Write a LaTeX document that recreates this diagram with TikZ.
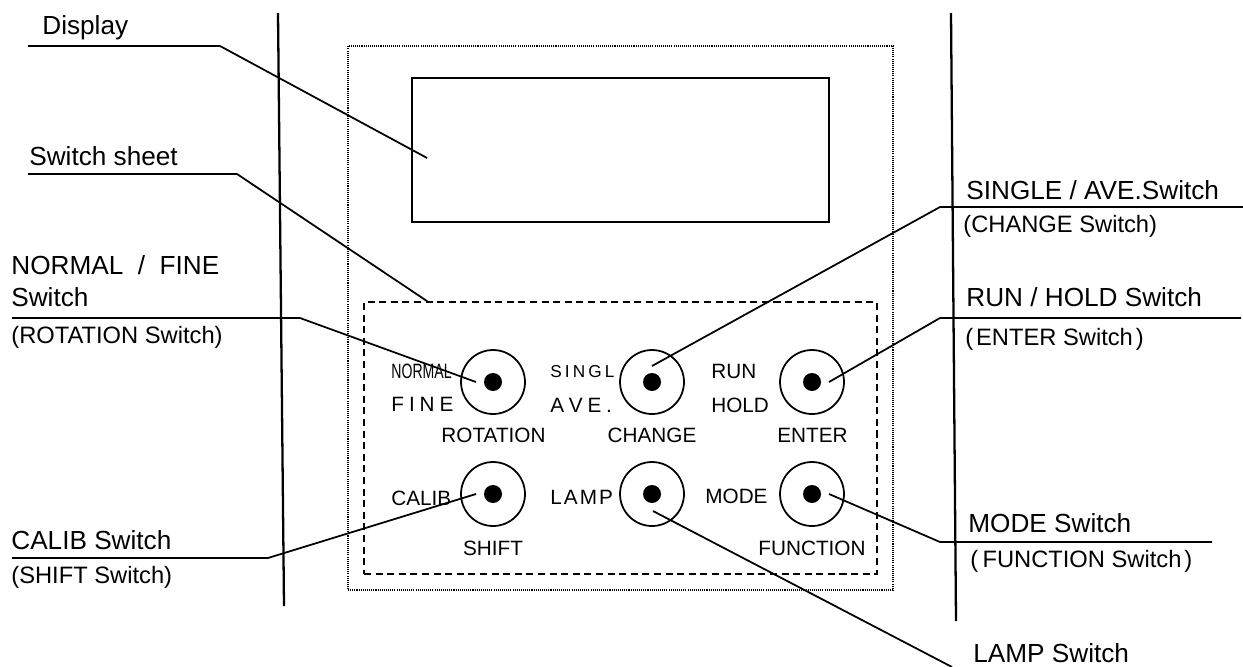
\documentclass[tikz,border=0pt]{standalone}
\usepackage{fontspec}
\setmainfont{Liberation Sans}
\usepackage{graphicx}
\usetikzlibrary{calc, positioning}

\newcommand{\lsp}{\hspace{0.23em}}

\begin{document}
\begin{tikzpicture}[x=0.02cm, y=-0.02cm,
  % Text Styles
  mainlbl/.style={anchor=base west, inner sep=0pt, font=\fontsize{14.9}{17}\selectfont},
  sublbl/.style={anchor=base west, inner sep=0pt, font=\fontsize{13.5}{16}\selectfont},
  keylbl/.style={anchor=base west, inner sep=0pt, font=\fontsize{11.8}{14}\selectfont},
  keyname/.style={anchor=base, inner sep=0pt, font=\fontsize{11.8}{14}\selectfont},
  % Panel Styles
  panelbox/.style={rectangle, draw, line width=0.8pt, dash pattern=on 0.6pt off 0.6pt, minimum width=10.9cm, minimum height=10.88cm, inner sep=0pt},
  sheetbox/.style={rectangle, draw, line width=0.9pt, dash pattern=on 4pt off 2.6pt, minimum width=10.26cm, minimum height=5.44cm, inner sep=0pt},
  dispbox/.style={rectangle, draw, line width=1.1pt, minimum width=8.34cm, minimum height=2.88cm, inner sep=0pt},
  swbtn/.style={circle, draw, line width=1pt, minimum size=1.28cm, inner sep=0pt,
    path picture={\fill (path picture bounding box.center) circle (0.18cm);}},
  % Line Styles
  leader/.style={line width=1pt},
  rail/.style={line width=1.3pt}
]
\useasboundingbox (0,0) rectangle (1243,666);

% Panel
\node[panelbox] (panel) at (620.5,318) {};
\node[dispbox] (disp) at (620.5,150) {};
\node[sheetbox] (sheet) at (620.5,438) {};

% Side rails
\coordinate (railLa) at (278,13);
\coordinate (railLb) at (284,606);
\coordinate (railRa) at (951,13);
\coordinate (railRb) at (956,621);
\draw[rail] (railLa) -- (railLb);
\draw[rail] (railRa) -- (railRb);

% Switches
\node[swbtn] (rot) at (493,382) {};
\node[swbtn] (chg) at (652,382) {};
\node[swbtn] (ent) at (812,382) {};
\node[swbtn] (sft) at (493,494) {};
\node[swbtn] (lmp) at (652,494) {};
\node[swbtn] (fnc) at (812,494) {};

% Switch markings
\node[keylbl] (normal) at (391,378) {\scalebox{0.68}[1]{NORMAL}};
\node[keylbl] (fine) at (391,411) {F\hspace{0.24em}I\hspace{0.24em}N\hspace{0.24em}E};
\node[keyname] (rotation) at (493.5,442) {ROTATION};
\node[keylbl, font=\fontsize{9.8}{12}\selectfont] (singl) at (550,377) {S\hspace{0.18em}I\hspace{0.18em}N\hspace{0.18em}G\hspace{0.18em}L};
\node[keylbl] (ave) at (550,412) {A\lsp V\lsp E\lsp .};
\node[keyname] (change) at (652,442) {CHANGE};
\node[keylbl] (run) at (711,378) {RUN};
\node[keylbl] (hold) at (711,412) {HOLD};
\node[keyname] (enter) at (812.5,442) {ENTER};
\node[keylbl] (calib) at (391,505) {CALIB};
\node[keylbl] (lamp) at (550,504) {L\hspace{0.1em}A\hspace{0.1em}M\hspace{0.1em}P};
\node[keylbl] (mode) at (705,503) {MODE};
\node[keyname] (shift) at (493,555) {SHIFT};
\node[keyname] (function) at (812,555) {FUNCTION};

% Left callouts
\node[mainlbl] (dispL) at (42,34) {Display};
\node[mainlbl] (sheetL) at (29,165) {Switch sheet};
\node[mainlbl] (rotL) at (11,274) {NORMAL\ \ /\ \ FINE};
\node[mainlbl] (rotL2) at (11,306) {Switch};
\node[sublbl] (rotS) at (11,343) {(ROTATION Switch)};
\node[mainlbl] (sftL) at (11,549) {CALIB Switch};
\node[sublbl] (sftS) at (11,583) {(SHIFT Switch)};

% Right callouts
\node[mainlbl] (chgL) at (966,199) {SINGLE / AVE.Switch};
\node[sublbl] (chgS) at (963,232) {(CHANGE Switch)};
\node[mainlbl] (entL) at (966,306) {RUN / HOLD Switch};
\node[sublbl] (entS) at (965,345) {(\hspace{0.12em}ENTER Switch\hspace{0.12em})};
\node[mainlbl] (fncL) at (968,532) {MODE Switch};
\node[sublbl] (fncS) at (970,567) {(\hspace{0.18em}FUNCTION Switch\hspace{0.12em})};
\node[mainlbl] (lmpL) at (973,662) {LAMP Switch};

% Leader knees
\coordinate (dispA) at (28,46);    \coordinate (dispB) at (220,46);
\coordinate (sheetA) at (28,174);  \coordinate (sheetB) at (237,174);
\coordinate (rotA) at (12,318);    \coordinate (rotB) at (300,318);
\coordinate (sftA) at (12,558);    \coordinate (sftB) at (268,558);
\coordinate (chgA) at (1243,207);  \coordinate (chgB) at (940,207);
\coordinate (entA) at (1241,318);  \coordinate (entB) at (940,318);
\coordinate (fncA) at (1212,542);  \coordinate (fncB) at (940,542);
\coordinate (lmpB) at (952,667);

% Leaders
\draw[leader] (dispA) -- (dispB) -- ($(disp.west)+(16,8)$);
\draw[leader] (sheetA) -- (sheetB) -- ($(sheet.north west)+(64,0)$);
\draw[leader] (rotA) -- (rotB) -- ($(rot.center)+(-17,0)$);
\draw[leader] (sftA) -- (sftB) -- ($(sft.center)+(-17,0)$);
\draw[leader] (chgA) -- (chgB) -- ($(chg.center)+(0,-16)$);
\draw[leader] (entA) -- (entB) -- ($(ent.center)+(17,0)$);
\draw[leader] (fncA) -- (fncB) -- ($(fnc.center)+(17,0)$);
\draw[leader] ($(lmp.center)+(1,17)$) -- (lmpB);

\end{tikzpicture}
\end{document}
